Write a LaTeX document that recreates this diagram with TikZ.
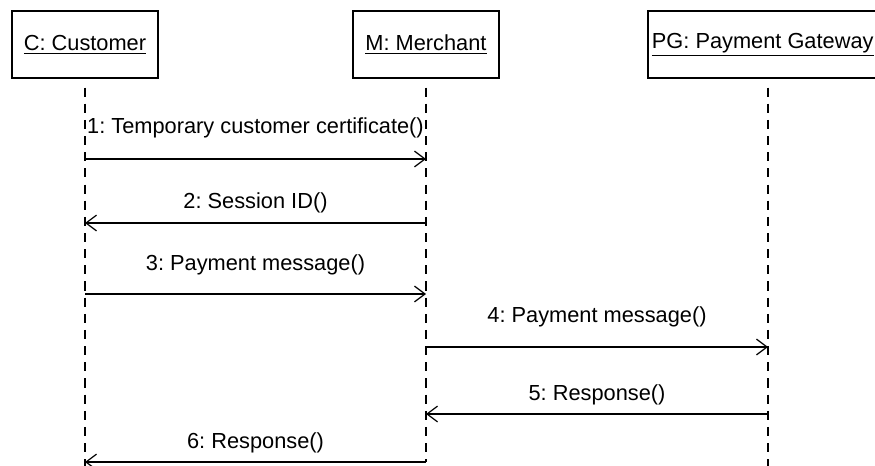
\documentclass[tikz,border=0pt]{standalone}
\usepackage{fontspec}
\setmainfont{Liberation Sans}
\usetikzlibrary{arrows.meta}
\frenchspacing

\tikzset{
  obj/.style={draw, line width=0.85pt, minimum width=2.92cm, minimum height=1.34cm, inner sep=0pt, font=\fontsize{12.4}{14}\selectfont},
  life/.style={line width=0.75pt, dash pattern=on 5.2pt off 4pt},
  msg/.style={line width=0.85pt, -{Straight Barb[length=6pt,width=9pt,line width=0.7pt]}},
  lbl/.style={font=\fontsize{12.4}{14}\selectfont, inner sep=0pt}
}

\begin{document}
\begin{tikzpicture}[x=0.02cm,y=-0.02cm]
  \useasboundingbox (0,0) rectangle (875,466);
  \clip (0,0) rectangle (875,466);
  \node[obj] (cust) at (85,44.5) {\underline{C: Customer}};
  \node[obj] (merch) at (426,44.5) {\underline{M: Merchant}};
  \node[obj, minimum width=4.8cm] (gw) at (768,44.5) {\underline{PG: Payment Gateway}\hspace*{6pt}};
  \coordinate (custend) at (85,466);
  \coordinate (merchend) at (426,462);
  \coordinate (gwend) at (768,466);
  \draw[life] ([yshift=-5pt]cust.south) -- (custend);
  \draw[life] ([yshift=-5pt]merch.south) -- (merchend);
  \draw[life] ([yshift=-5pt]gw.south) -- (gwend);
  \draw[msg] (cust |- 0,159) -- (merch |- 0,159) node[lbl, midway, yshift=17.5pt] {1: Temporary customer certificate()};
  \draw[msg] (merch |- 0,223) -- (cust |- 0,223) node[lbl, midway, yshift=11.3pt] {2: Session ID()};
  \draw[msg] (cust |- 0,294) -- (merch |- 0,294) node[lbl, midway, yshift=16.4pt] {3: Payment message()};
  \draw[msg] (merch |- 0,347) -- (gw |- 0,347) node[lbl, midway, yshift=16.9pt] {4: Payment message()};
  \draw[msg] (gw |- 0,414) -- (merch |- 0,414) node[lbl, midway, yshift=10.8pt] {5: Response()};
  \draw[msg] (merch |- 0,462) -- (cust |- 0,462) node[lbl, midway, yshift=10.8pt] {6: Response()};
\end{tikzpicture}
\end{document}
